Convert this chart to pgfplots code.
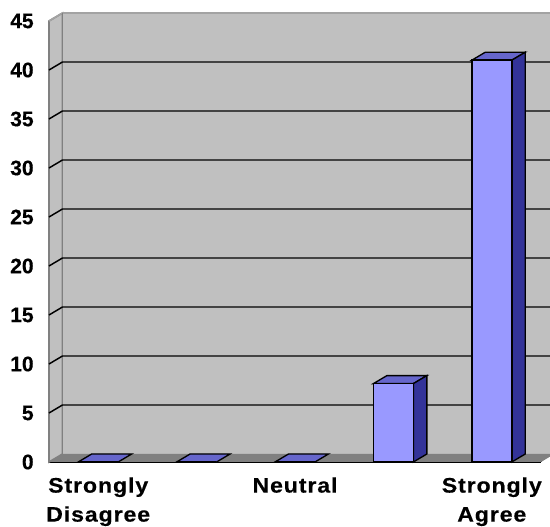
\documentclass[border=0pt]{standalone}
\usepackage{pgfplots}
\pgfplotsset{compat=1.18}
\usepackage{fontspec}
\setmainfont{Liberation Sans}
\newfontfamily\catfont{Liberation Sans Bold}[FakeStretch=1.1,LetterSpace=4.3,FakeBold=0.4]
\newfontfamily\numfont{Liberation Sans Bold}[FakeBold=0.4]
\definecolor{wall}{HTML}{C0C0C0}
\definecolor{floorc}{HTML}{808080}
\definecolor{front}{HTML}{9999FF}
\definecolor{topc}{HTML}{6666CC}
\definecolor{sidec}{HTML}{333399}
\begin{document}
\begin{tikzpicture}[x=0.75pt,y=0.75pt]
\path[use as bounding box] (-49,-65) rectangle (501,462);
\begin{axis}[
  scale only axis, width=369pt, height=330.75pt,
  xmin=0, xmax=5, ymin=0, ymax=45, clip=false,
  axis x line*=bottom, axis y line*=left,
  axis line style={black, line width=1.2pt, -},
  xtick={0.5,1.5,2.5,3.5,4.5},
  xticklabels={{Strongly\\Disagree},{},{Neutral},{},{Strongly\\Agree}},
  minor xtick={0,1,2,3,4,5},
  ytick={0,5,...,45},
  major tick length=5pt,
  minor tick length=4pt,
  x tick style={draw=none},
  minor x tick style={draw=black, line width=1.1pt},
  y tick style={black, line width=1.1pt},
  /pgf/number format/assume math mode=true,
  xticklabel style={align=center, font=\fontsize{15.75}{21.75}\catfont, yshift=-8pt, anchor=north},
  yticklabel style={font=\fontsize{15.75}{18}\numfont, xshift=-8pt},
]
% walls and floor
\addplot[fill=wall, draw=floorc, line width=1.2pt] coordinates {(0,0)(0.137,0.816)(0.137,45.816)(0,45)} -- cycle;
\addplot[fill=wall, draw=none] coordinates {(0.137,0.816)(0.137,45.816)(5.09,45.816)(5.09,0.816)} -- cycle;
\addplot[draw=wall!85!black, line width=1.2pt] coordinates {(0,45)(0.137,45.816)(5.09,45.816)};
\addplot[draw=floorc, line width=1.2pt] coordinates {(0.137,0.816)(0.137,45.816)};
\addplot[fill=floorc, draw=none] coordinates {(0,0)(0.137,0.816)(5.09,0.816)(5.09,0.536)(5,0)} -- cycle;
% gridlines
\addplot[black, line width=1.1pt] coordinates {(0,5)(0.137,5.816)(5.09,5.816)};
\addplot[black, line width=1.1pt] coordinates {(0,10)(0.137,10.816)(5.09,10.816)};
\addplot[black, line width=1.1pt] coordinates {(0,15)(0.137,15.816)(5.09,15.816)};
\addplot[black, line width=1.1pt] coordinates {(0,20)(0.137,20.816)(5.09,20.816)};
\addplot[black, line width=1.1pt] coordinates {(0,25)(0.137,25.816)(5.09,25.816)};
\addplot[black, line width=1.1pt] coordinates {(0,30)(0.137,30.816)(5.09,30.816)};
\addplot[black, line width=1.1pt] coordinates {(0,35)(0.137,35.816)(5.09,35.816)};
\addplot[black, line width=1.1pt] coordinates {(0,40)(0.137,40.816)(5.09,40.816)};
% bar tops
\addplot[fill=topc, draw=black, line width=1pt] coordinates {(0.297,0)(0.434,0.816)(0.840,0.816)(0.703,0)} -- cycle;
\addplot[fill=topc, draw=black, line width=1pt] coordinates {(1.297,0)(1.434,0.816)(1.840,0.816)(1.703,0)} -- cycle;
\addplot[fill=topc, draw=black, line width=1pt] coordinates {(2.297,0)(2.434,0.816)(2.840,0.816)(2.703,0)} -- cycle;
\addplot[fill=topc, draw=black, line width=1pt] coordinates {(3.297,8)(3.434,8.816)(3.840,8.816)(3.703,8)} -- cycle;
\addplot[fill=topc, draw=black, line width=1pt] coordinates {(4.297,41)(4.434,41.816)(4.840,41.816)(4.703,41)} -- cycle;
% bar sides
\addplot[fill=sidec, draw=black, line width=1pt] coordinates {(3.703,8)(3.840,8.816)(3.840,0.816)(3.703,0)} -- cycle;
\addplot[fill=sidec, draw=black, line width=1pt] coordinates {(4.703,41)(4.840,41.816)(4.840,0.816)(4.703,0)} -- cycle;
% bar fronts
\addplot[ybar, bar width=30pt, fill=front, draw=black, line width=1.1pt] coordinates {(0.5,0)(1.5,0)(2.5,0)(3.5,8)(4.5,41)};
\end{axis}
\end{tikzpicture}
\end{document}
